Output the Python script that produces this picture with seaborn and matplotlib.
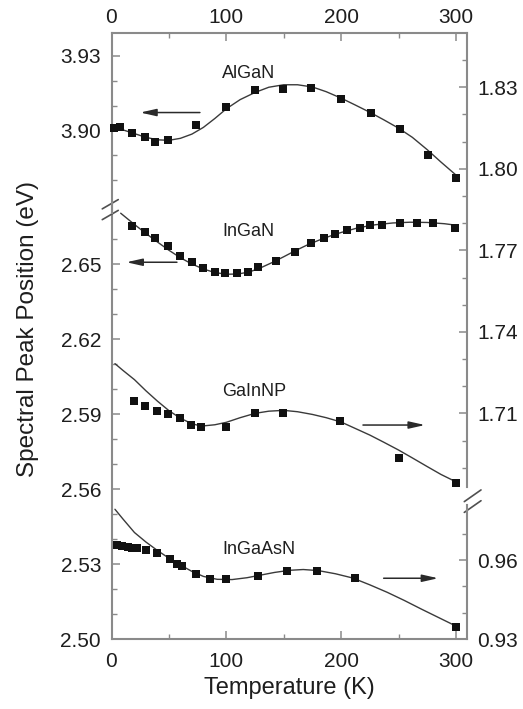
import matplotlib
matplotlib.use("Agg")
import matplotlib.pyplot as plt
from matplotlib.ticker import MultipleLocator, FixedLocator, FormatStrFormatter
import seaborn as sns

# ---------------------------------------------------------------- data
# AlGaN (left axis, upper section)
ALGAN_T = [2, 7, 18, 29, 38, 49, 74, 100, 125, 149, 174, 200, 226, 251, 276, 300]
ALGAN_E = [3.9011, 3.9015, 3.8988, 3.8973, 3.8955, 3.8960, 3.9021, 3.9093,
           3.9161, 3.9168, 3.9171, 3.9127, 3.9071, 3.9007, 3.8900, 3.8807]
ALGAN_FIT_T = [2, 10, 20, 30, 40, 50, 60, 70, 80, 90, 100, 112, 125, 137, 150,
               162, 175, 187, 200, 212, 225, 237, 250, 262, 275, 287, 300]
ALGAN_FIT_E = [3.9012, 3.9002, 3.8987, 3.8972, 3.8962, 3.8960, 3.8968, 3.8985,
               3.9012, 3.9048, 3.9087, 3.9124, 3.9153, 3.9174, 3.9184, 3.9184,
               3.9175, 3.9156, 3.9130, 3.9103, 3.9073, 3.9043, 3.9009, 3.8972,
               3.8922, 3.8872, 3.8820]

# InGaN (left axis, lower section)
INGAN_T = [18, 29, 38, 49, 60, 70, 80, 90, 99, 109, 119, 128, 143, 160, 174,
           185, 195, 205, 216, 225, 236, 251, 266, 280, 299]
INGAN_E = [2.6651, 2.6629, 2.6602, 2.6572, 2.6533, 2.6507, 2.6485, 2.6469,
           2.6463, 2.6463, 2.6469, 2.6488, 2.6512, 2.6547, 2.6583, 2.6604,
           2.6620, 2.6636, 2.6643, 2.6656, 2.6656, 2.6665, 2.6663, 2.6663,
           2.6643]
INGAN_FIT_T = [8, 20, 30, 40, 50, 60, 70, 80, 90, 100, 110, 120, 130, 140, 150,
               160, 170, 180, 190, 200, 215, 230, 245, 260, 275, 290, 300]
INGAN_FIT_E = [2.6703, 2.6658, 2.6622, 2.6588, 2.6555, 2.6525, 2.6500, 2.6480,
               2.6466, 2.6459, 2.6460, 2.6468, 2.6485, 2.6506, 2.6529, 2.6553,
               2.6575, 2.6594, 2.6611, 2.6626, 2.6645, 2.6657, 2.6664, 2.6667,
               2.6666, 2.6661, 2.6655]

# GaInNP (right axis, upper section)
GAINNP_T = [20, 29, 40, 49, 60, 69, 78, 100, 125, 149, 199, 250, 300]
GAINNP_E = [1.7147, 1.7128, 1.7109, 1.7096, 1.7082, 1.7057, 1.7051, 1.7051,
            1.7102, 1.7102, 1.7072, 1.6937, 1.6845]
GAINNP_FIT_T = [3, 10, 20, 30, 40, 50, 60, 70, 78, 90, 100, 112, 125, 137, 150,
                162, 175, 187, 200, 212, 225, 237, 250, 262, 275, 287, 300]
GAINNP_FIT_E = [1.7283, 1.7258, 1.7224, 1.7183, 1.7145, 1.7110, 1.7082, 1.7062,
                1.7053, 1.7058, 1.7067, 1.7084, 1.7100, 1.7108, 1.7111, 1.7106,
                1.7096, 1.7084, 1.7068, 1.7045, 1.7020, 1.6994, 1.6965, 1.6936,
                1.6904, 1.6875, 1.6848]

# InGaAsN (right axis, lower section)
INGAASN_T = [5, 9, 14, 18, 22, 30, 40, 51, 57, 61, 74, 86, 100, 128, 153, 179,
             212, 300]
INGAASN_E = [0.9657, 0.9653, 0.9648, 0.9647, 0.9644, 0.9638, 0.9625, 0.9604,
             0.9585, 0.9577, 0.9546, 0.9527, 0.9527, 0.9540, 0.9560, 0.9560,
             0.9533, 0.9348]
INGAASN_FIT_T = [3, 10, 20, 30, 40, 50, 60, 70, 80, 92, 105, 118, 130, 142, 155,
                 167, 180, 195, 210, 225, 240, 255, 270, 285, 300]
INGAASN_FIT_E = [0.9792, 0.9755, 0.9704, 0.9668, 0.9636, 0.9607, 0.9581, 0.9557,
                 0.9538, 0.9527, 0.9526, 0.9533, 0.9543, 0.9553, 0.9561, 0.9564,
                 0.9560, 0.9548, 0.9532, 0.9506, 0.9478, 0.9447, 0.9414, 0.9382,
                 0.9350]

# tick values per axis section
X_MAJOR = [0, 100, 200, 300]
LEFT_LOW_MAJOR = [2.50, 2.53, 2.56, 2.59, 2.62, 2.65]
LEFT_LOW_MINOR = [2.51, 2.52, 2.54, 2.55, 2.57, 2.58, 2.60, 2.61, 2.63, 2.64, 2.66]
LEFT_TOP_MAJOR = [3.90, 3.93]
LEFT_TOP_MINOR = [3.88, 3.89, 3.91, 3.92]
RIGHT_TOP_MAJOR = [1.71, 1.74, 1.77, 1.80, 1.83]
RIGHT_TOP_MINOR = [1.69, 1.70, 1.72, 1.73, 1.75, 1.76, 1.78, 1.79, 1.81, 1.82, 1.84]
RIGHT_LOW_MAJOR = [0.93, 0.96]
RIGHT_LOW_MINOR = [0.94, 0.95, 0.97]

# ---------------------------------------------------------------- style
sns.set_theme(style="ticks")
plt.rcParams["font.family"] = ["Liberation Sans", "DejaVu Sans"]

TEXT = "#1e1e1e"
SPINE = "#8a8a8a"
LINE = "#3a3a3a"
MARK = "#111111"

W, H = 523, 709
fig = plt.figure(figsize=(W / 100, H / 100), dpi=100, facecolor="white")
x0, x1, ytop, ybot = 111.5, 467.0, 33.3, 639.3
rect = [x0 / W, 1 - ybot / H, (x1 - x0) / W, (ybot - ytop) / H]

ax_l = fig.add_axes(rect)                 # InGaN, left scale
ax_a = fig.add_axes(rect, sharex=ax_l)    # AlGaN, left scale (upper)
ax_g = fig.add_axes(rect, sharex=ax_l)    # GaInNP, right scale (upper)
ax_i = fig.add_axes(rect, sharex=ax_l)    # InGaAsN, right scale (lower)
for a in (ax_l, ax_a, ax_g, ax_i):
    a.patch.set_visible(False)
    for s in a.spines.values():
        s.set_visible(False)
        s.set_color(SPINE)
        s.set_linewidth(1.5)


def draw(ax, fit_t, fit_e, t, e):
    sns.lineplot(x=fit_t, y=fit_e, ax=ax, color=LINE, linewidth=1.0, zorder=2)
    sns.scatterplot(x=t, y=e, ax=ax, marker="s", s=32, color=MARK,
                    linewidth=0, zorder=3, clip_on=False)


draw(ax_a, ALGAN_FIT_T, ALGAN_FIT_E, ALGAN_T, ALGAN_E)
draw(ax_l, INGAN_FIT_T, INGAN_FIT_E, INGAN_T, INGAN_E)
draw(ax_g, GAINNP_FIT_T, GAINNP_FIT_E, GAINNP_T, GAINNP_E)
draw(ax_i, INGAASN_FIT_T, INGAASN_FIT_E, INGAASN_T, INGAASN_E)

# vertical scales of the four overlaid sections (eV per axes height)
ax_l.set_ylim(2.50, 2.50 + 606 / 2502)
ax_a.set_ylim(3.93915 - 606 / 2480, 3.93915)
ax_g.set_ylim(1.84988 - 606 / 2717, 1.84988)
ax_i.set_ylim(0.93, 0.93 + 606 / 2643)
ax_l.set_xlim(0, 309.6)

# spines, broken on both sides
ax_l.spines["bottom"].set_visible(True)
ax_l.spines["left"].set_visible(True)
ax_l.spines["left"].set_bounds(2.50, 2.6740)
ax_a.spines["top"].set_visible(True)
ax_a.spines["left"].set_visible(True)
ax_a.spines["left"].set_bounds(3.8667, 3.93915)
ax_g.spines["right"].set_visible(True)
ax_g.spines["right"].set_bounds(1.68295, 1.84988)
ax_i.spines["right"].set_visible(True)
ax_i.spines["right"].set_bounds(0.93, 0.9808)

# x axis: bottom on ax_l, top on ax_a
ax_l.xaxis.set_major_locator(FixedLocator(X_MAJOR))
ax_l.xaxis.set_minor_locator(MultipleLocator(50))
tick_kw = dict(direction="in", color=SPINE, labelcolor=TEXT, labelsize=15)
ax_l.tick_params(axis="x", which="both", bottom=True, top=False,
                 labelbottom=True, labeltop=False, **tick_kw)
ax_l.tick_params(axis="x", which="major", length=6, width=1.1, pad=9.5)
ax_l.tick_params(axis="x", which="minor", length=3.3, width=1.0)
ax_a.tick_params(axis="x", which="both", bottom=False, top=True,
                 labelbottom=False, labeltop=True, **tick_kw)
ax_a.tick_params(axis="x", which="major", length=6, width=1.1, pad=4.5)
ax_a.tick_params(axis="x", which="minor", length=3.3, width=1.0)
for a in (ax_g, ax_i):
    a.tick_params(axis="x", which="both", bottom=False, top=False,
                  labelbottom=False, labeltop=False)


def yticks(ax, major, minor, side):
    ax.yaxis.set_major_locator(FixedLocator(major))
    ax.yaxis.set_minor_locator(FixedLocator(minor))
    ax.yaxis.set_major_formatter(FormatStrFormatter("%.2f"))
    left = side == "left"
    ax.tick_params(axis="y", which="both", left=left, right=not left,
                   labelleft=left, labelright=not left, **tick_kw)
    ax.tick_params(axis="y", which="major", length=6, width=1.1, pad=7.5)
    ax.tick_params(axis="y", which="minor", length=3.3, width=1.0)


yticks(ax_l, LEFT_LOW_MAJOR, LEFT_LOW_MINOR, "left")
yticks(ax_a, LEFT_TOP_MAJOR, LEFT_TOP_MINOR, "left")
yticks(ax_g, RIGHT_TOP_MAJOR, RIGHT_TOP_MINOR, "right")
yticks(ax_i, RIGHT_LOW_MAJOR, RIGHT_LOW_MINOR, "right")

# break marks on the two spines (axes-fraction units)
brk = dict(color="#505050", linewidth=1.2, clip_on=False, zorder=5)
for dy in (0.0, 0.0178):
    ax_l.plot([-0.026, 0.019], [0.7103 - dy, 0.7256 - dy],
              transform=ax_l.transAxes, **brk)
    ax_l.plot([0.9924, 1.0394], [0.2272 - dy, 0.2465 - dy],
              transform=ax_l.transAxes, **brk)

# sample labels
lab = dict(fontsize=13, color=TEXT, ha="left", va="center")
ax_a.text(96.5, 3.9228, "AlGaN", **lab)
ax_l.text(96.5, 2.6628, "InGaN", **lab)
ax_g.text(96.5, 1.7179, "GaInNP", **lab)
ax_i.text(96.5, 0.9638, "InGaAsN", **lab)

# arrows pointing to the relevant scale
arr = dict(arrowstyle="-|>,head_length=0.8,head_width=0.18", color="#2a2a2a",
           lw=1.1, shrinkA=0, shrinkB=0)
ax_a.annotate("", xy=(25, 3.9072), xytext=(77, 3.9072), arrowprops=arr)
ax_l.annotate("", xy=(13, 2.6507), xytext=(57, 2.6507), arrowprops=arr)
ax_g.annotate("", xy=(273, 1.7057), xytext=(219, 1.7057), arrowprops=arr)
ax_i.annotate("", xy=(284.5, 0.9531), xytext=(237, 0.9531), arrowprops=arr)

ax_l.set_xlabel("Temperature (K)", fontsize=17, color=TEXT)
ax_l.xaxis.set_label_coords(0.5, -0.062)
ax_l.set_ylabel("Spectral Peak Position (eV)", fontsize=17.5, color=TEXT)
ax_l.yaxis.set_label_coords(-0.205, 0.512)
for a in (ax_a, ax_g, ax_i):
    a.set_xlabel("")
    a.set_ylabel("")

fig.savefig("out.png", dpi=100, facecolor="white")
